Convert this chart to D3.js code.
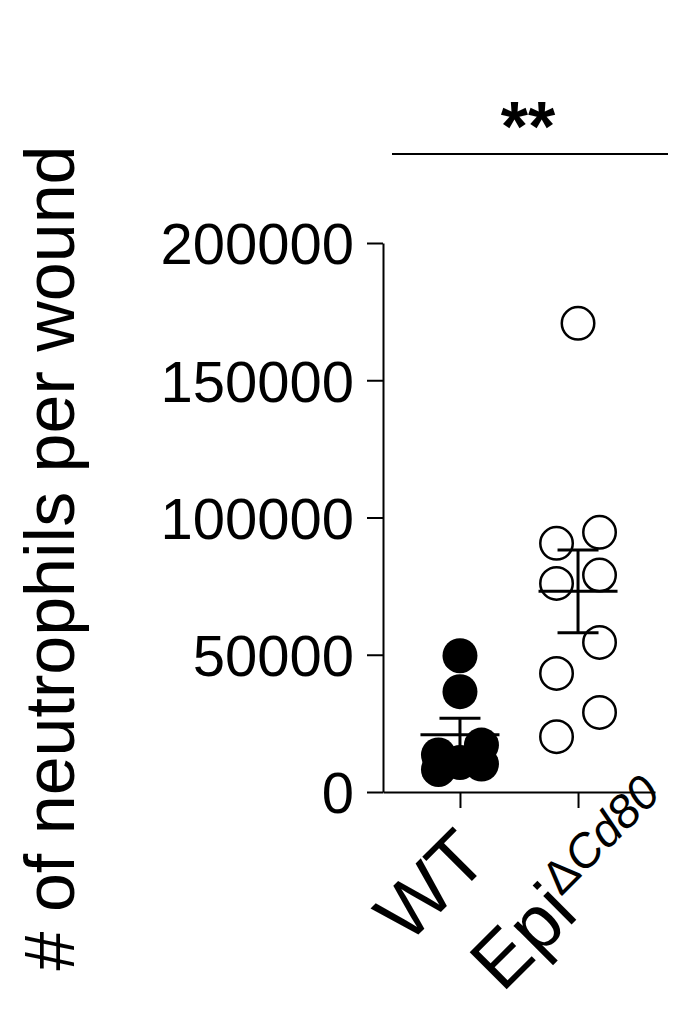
<!DOCTYPE html>
<html>
<head>
<meta charset="utf-8">
<script src="https://cdn.jsdelivr.net/npm/d3@7"></script>
<style>
  body { margin: 0; background: #fff; }
  text { font-family: "Liberation Sans", Arial, Helvetica, sans-serif; fill: #000; }
</style>
</head>
<body>
<div id="chart"></div>
<script>
// 1: DATA
const groups = ["WT", "Epi"];
const wtValues = [49650, 36540, 17100, 13500, 10750, 10200, 8200];
const epiValues = [170750, 94600, 90600, 79050, 76000, 54500, 43200, 29000, 20150];
const yTicks = [0, 50000, 100000, 150000, 200000];
const yLabel = "# of neutrophils per wound";
const sigLabel = "**";

// 2: SIZE + SVG
const W = 687, H = 1020;
const svg = d3.select("#chart")
    .append("svg")
    .attr("width", W)
    .attr("height", H);

// 3: SCALES
const y = d3.scaleLinear()
    .domain([0, 200000])
    .range([792, 243]);

const x = d3.scalePoint()
    .domain(groups)
    .range([383, 655])
    .padding(0.652);

const r = 17.5;
const step = 21.5;

// scatter layout: runs of close points, each point takes the slot
// (right, left, centre) farthest from the points already placed in its run
function spread(values) {
    const sorted = values.slice().sort((a, b) => b - a);
    const out = [];
    let run = [];
    const flush = () => {
        if (run.length === 1) { out.push({ v: run[0], dx: 0 }); run = []; return; }
        const placed = [];
        run.forEach(v => {
            let best = null, bestD = -1;
            [step, -step, 0].forEach(dx => {
                let d = Infinity;
                placed.forEach(p => {
                    d = Math.min(d, Math.hypot(dx - p.dx, y(v) - y(p.v)));
                });
                if (d > bestD) { bestD = d; best = dx; }
            });
            placed.push({ v, dx: best });
        });
        placed.forEach(p => out.push(p));
        run = [];
    };
    sorted.forEach((v, i) => {
        if (i > 0 && y(v) - y(sorted[i - 1]) >= 2 * r) flush();
        run.push(v);
    });
    flush();
    return out;
}

const series = [
    { key: "WT", values: wtValues, filled: true },
    { key: "Epi", values: epiValues, filled: false }
];

// 4: AXES
const yAxis = svg.append("g")
    .attr("transform", `translate(${x.range()[0]},0)`)
    .call(d3.axisLeft(y).tickValues(yTicks).tickSize(16).tickSizeOuter(0).tickPadding(13)
        .tickFormat(d3.format("d")));
yAxis.select(".domain").attr("stroke-width", 2);
yAxis.selectAll(".tick line").attr("stroke-width", 2);
yAxis.selectAll(".tick text")
    .style("font-size", "58px")
    .attr("dy", "0.36em");

const xAxis = svg.append("g")
    .attr("transform", `translate(0,${y(0)})`)
    .call(d3.axisBottom(x).tickSize(16).tickSizeOuter(0).tickFormat(""));
xAxis.select(".domain").attr("stroke-width", 2);
xAxis.selectAll(".tick line").attr("stroke-width", 2);

// x labels, rotated
const labelShift = { WT: -11, Epi: 14 };
const xl = svg.append("g");
groups.forEach(g => {
    const t = xl.append("text")
        .attr("text-anchor", "middle")
        .attr("transform", `translate(${x(g) + labelShift[g]},${y(0) + 112}) rotate(-45)`)
        .style("font-size", "76px");
    t.append("tspan").text(g);
    if (g === "Epi") {
        t.append("tspan").attr("dy", -27).style("font-size", "47px").text("Δ");
        t.append("tspan").style("font-size", "47px").style("font-style", "italic").text("Cd80");
    }
});

// y label
svg.append("text")
    .attr("text-anchor", "middle")
    .attr("transform", `translate(74,558) rotate(-90)`)
    .style("font-size", "70px")
    .text(yLabel);

// 5: POINTS
series.forEach(s => {
    const pts = spread(s.values);
    svg.append("g")
        .selectAll("circle")
        .data(pts)
        .enter().append("circle")
        .attr("cx", d => x(s.key) + d.dx)
        .attr("cy", d => y(d.v))
        .attr("r", s.filled ? r : r - 1.25)
        .attr("fill", s.filled ? "#000" : "none")
        .attr("stroke", "#000")
        .attr("stroke-width", s.filled ? 0 : 2.5);
});

// 6: MEAN + SEM
series.forEach(s => {
    const m = d3.mean(s.values);
    const sem = d3.deviation(s.values) / Math.sqrt(s.values.length);
    const cx = x(s.key);
    const g = svg.append("g").attr("stroke", "#000").attr("stroke-width", 3);
    g.append("line").attr("x1", cx - 39.5).attr("x2", cx + 39.5).attr("y1", y(m)).attr("y2", y(m));
    g.append("line").attr("x1", cx).attr("x2", cx).attr("y1", y(m + sem)).attr("y2", y(m - sem));
    [m + sem, m - sem].forEach(v => {
        g.append("line").attr("x1", cx - 20.5).attr("x2", cx + 20.5).attr("y1", y(v)).attr("y2", y(v));
    });
});

// 7: SIGNIFICANCE
svg.append("line")
    .attr("x1", 392).attr("x2", 668)
    .attr("y1", 154).attr("y2", 154)
    .attr("stroke", "#000")
    .attr("stroke-width", 2);

svg.append("text")
    .attr("x", 528)
    .attr("y", 151)
    .attr("text-anchor", "middle")
    .style("font-size", "70px")
    .style("font-weight", "bold")
    .text(sigLabel);
</script>
</body>
</html>
